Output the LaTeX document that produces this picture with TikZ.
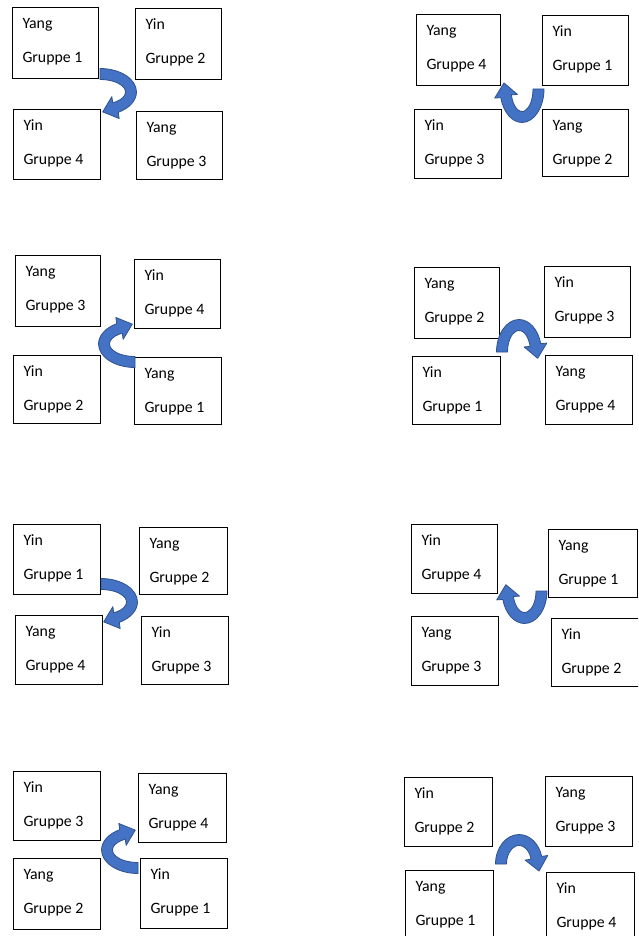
\documentclass[tikz,border=0pt]{standalone}
\usepackage{fontspec}
\setmainfont{Carlito}
\definecolor{arrowblue}{HTML}{4472C4}
\definecolor{arrowdark}{HTML}{2F528F}
\tikzset{
  x=1pt, y=1pt,
  box/.style={draw=black, line width=0.8pt, inner sep=0pt, outer sep=0pt},
  txt/.style={inner sep=0pt, outer sep=0pt, font=\fontsize{15.8}{19}\selectfont},
  arrowsty/.style={fill=arrowblue, draw=arrowdark, line width=0.8pt, line join=round}
}
% name, x1, y1, x2, y2, line 1, line 2  (y measured downwards)
\newcommand\bx[7]{%
  \node[box, minimum width={#4-#2}, minimum height={#5-#3}, anchor=north west] (#1) at (#2,-#3) {};
  \node[txt, anchor=base west] (#1-l1) at ([shift={(10.5,-21.5)}]#1.north west) {#6};
  \node[txt, anchor=base west] (#1-l2) at ([shift={(10.5,-55.5)}]#1.north west) {#7};
}
% centre x, centre y (downwards), rotation, A, B, end angle
\newcommand\carrow[6]{%
  \begin{scope}[shift={(#1,-#2)}, rotate=#3]
    \pgfmathsetmacro\cA{#4}\pgfmathsetmacro\cB{#5}\pgfmathsetmacro\ct{#6}
    \pgfmathsetmacro\cx{\cA*cos(\ct)}\pgfmathsetmacro\cy{\cB*sin(\ct)}
    \pgfmathsetmacro\tx{\cA*sin(\ct)}\pgfmathsetmacro\ty{0-\cB*cos(\ct)}
    \pgfmathsetmacro\tl{veclen(\tx,\ty)}
    \pgfmathsetmacro\ux{\tx/\tl}\pgfmathsetmacro\uy{\ty/\tl}
    \pgfmathsetmacro\oxa{\cx-11.5*\uy}\pgfmathsetmacro\oya{\cy+11.5*\ux}
    \pgfmathsetmacro\ixa{\cx+11.5*\uy}\pgfmathsetmacro\iya{\cy-11.5*\ux}
    \pgfmathsetmacro\px{\cx+13.5*\ux}\pgfmathsetmacro\py{\cy+13.5*\uy}
    \pgfmathsetmacro\ex{(\cA-5.5)*cos(\ct)}\pgfmathsetmacro\ey{(\cB-5.5)*sin(\ct)}
    \pgfmathsetmacro\Ao{\cA+5.5}\pgfmathsetmacro\Bo{\cB+5.5}
    \pgfmathsetmacro\Ai{\cA-5.5}\pgfmathsetmacro\Bi{\cB-5.5}
    \filldraw[arrowsty] (0,\Bo) arc[start angle=90, end angle=\ct, x radius=\Ao, y radius=\Bo]
      -- (\oxa,\oya) -- (\px,\py) -- (\ixa,\iya) -- (\ex,\ey)
      arc[start angle=\ct, end angle=90, x radius=\Ai, y radius=\Bi] -- cycle;
  \end{scope}
}
\begin{document}
\begin{tikzpicture}
\clip (0,0) rectangle (638,-936);
\fill[white] (0,0) rectangle (638,-936);
% panel 1
\bx{pa1}{12}{7}{98}{78}{Yang}{Gruppe 1}
\bx{pa2}{135}{8}{221}{79}{Yin}{Gruppe 2}
\bx{pa4}{13}{109}{100}{179}{Yin}{Gruppe 4}
\bx{pa3}{136}{111}{222}{179}{Yang}{Gruppe 3}
\carrow{100}{92}{0}{31}{18}{-60}
% panel 2
\bx{pb4}{416}{14}{500}{85}{Yang}{Gruppe 4}
\bx{pb1}{542}{15}{628}{85}{Yin}{Gruppe 1}
\bx{pb3}{414}{109}{501}{178}{Yin}{Gruppe 3}
\bx{pb2}{542}{109}{628}{176}{Yang}{Gruppe 2}
\carrow{522}{89}{-90}{28}{16.5}{-75}
% panel 3
\bx{pc3}{15}{255}{100}{326}{Yang}{Gruppe 3}
\bx{pc4}{134}{259}{220}{328}{Yin}{Gruppe 4}
\bx{pc2}{13}{355}{100}{423}{Yin}{Gruppe 2}
\bx{pc1}{134}{357}{221}{424}{Yang}{Gruppe 1}
\carrow{135}{344}{180}{31}{18}{-60}
% panel 4
\bx{pd2}{414}{267}{499}{338}{Yang}{Gruppe 2}
\bx{pd3}{544}{266}{630}{337}{Yin}{Gruppe 3}
\bx{pd1}{412}{356}{500}{424}{Yin}{Gruppe 1}
\bx{pd4}{545}{355}{632}{424}{Yang}{Gruppe 4}
\carrow{519}{352}{90}{27}{17}{-75}
% panel 5
\bx{pe1}{13}{524}{100}{594}{Yin}{Gruppe 1}
\bx{pe2}{139}{527}{227}{594}{Yang}{Gruppe 2}
\bx{pe4}{15}{615}{102}{684}{Yang}{Gruppe 4}
\bx{pe3}{141}{616}{228}{684}{Yin}{Gruppe 3}
\carrow{101}{602}{0}{31}{18}{-60}
% panel 6
\bx{pf4}{411}{524}{497}{593}{Yin}{Gruppe 4}
\bx{pf1}{548}{529}{637}{597}{Yang}{Gruppe 1}
\bx{pf3}{411}{616}{498}{685}{Yang}{Gruppe 3}
\bx{pf2}{551}{618}{642}{686}{Yin}{Gruppe 2}
\carrow{524.5}{591}{-90}{27}{17}{-75}
% panel 7
\bx{pg3}{13}{771}{100}{840}{Yin}{Gruppe 3}
\bx{pg4}{138}{773}{226}{842}{Yang}{Gruppe 4}
\bx{pg2}{13}{858}{100}{929}{Yang}{Gruppe 2}
\bx{pg1}{140}{858}{227}{928}{Yin}{Gruppe 1}
\carrow{138}{850}{180}{31}{18}{-60}
% panel 8
\bx{ph2}{404}{777}{492}{846}{Yin}{Gruppe 2}
\bx{ph3}{545}{776}{632}{846}{Yang}{Gruppe 3}
\bx{ph1}{405}{870}{493}{940}{Yang}{Gruppe 1}
\bx{ph4}{546}{872}{634}{942}{Yin}{Gruppe 4}
\carrow{519}{864}{90}{24}{18}{-75}
\end{tikzpicture}
\end{document}
